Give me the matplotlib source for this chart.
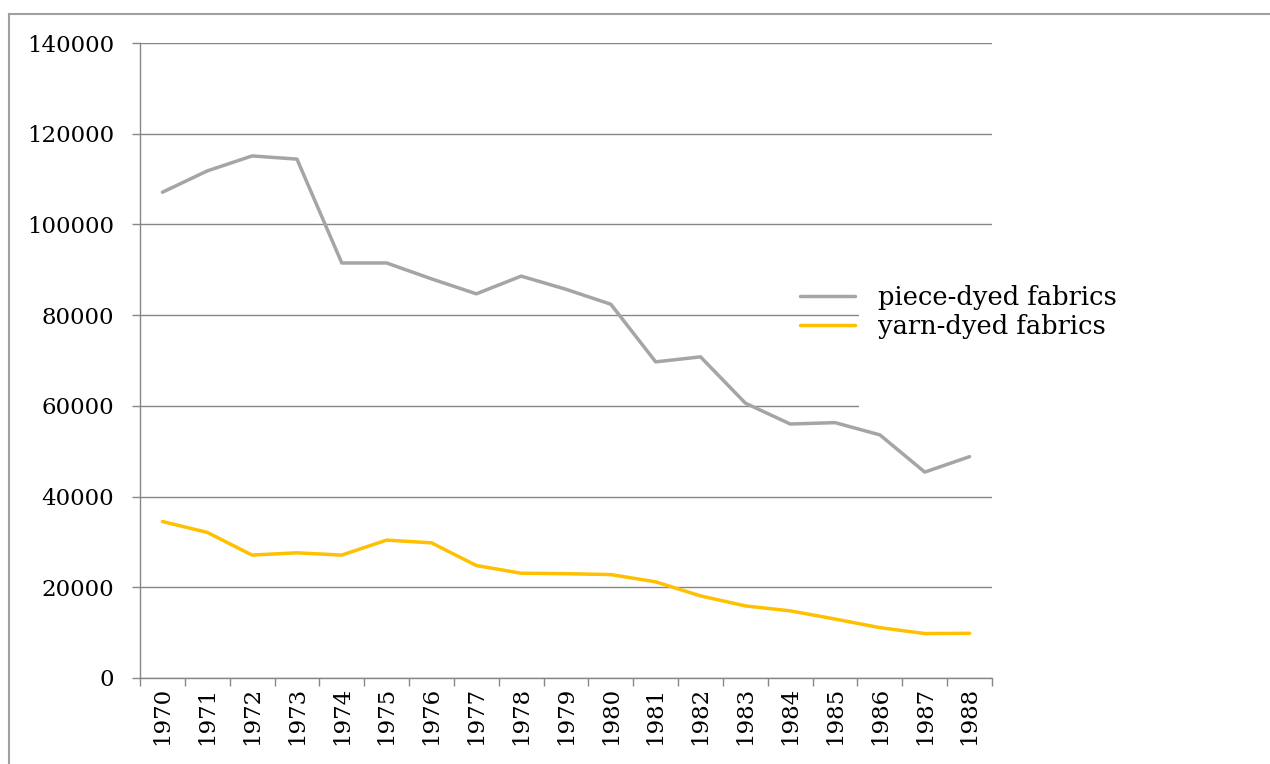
import matplotlib
matplotlib.use("Agg")
import matplotlib.pyplot as plt
from matplotlib.lines import Line2D
from matplotlib.patches import Rectangle
import numpy as np

years = [str(y) for y in range(1970, 1989)]
piece_dyed = [107100, 111800, 115100, 114400, 91500, 91500, 88000, 84700, 88600,
              85700, 82400, 69700, 70800, 60600, 56000, 56300, 53600, 45400, 48800]
yarn_dyed = [34500, 32100, 27100, 27600, 27100, 30400, 29800, 24800, 23100,
             23000, 22800, 21200, 18100, 15900, 14800, 13000, 11100, 9800, 9850]
yticks = [0, 20000, 40000, 60000, 80000, 100000, 120000, 140000]
series_names = ["piece-dyed fabrics", "yarn-dyed fabrics"]

W, H = 1270, 764
plt.rcParams['font.family'] = ['DejaVu Serif']
fig = plt.figure(figsize=(W / 100, H / 100), dpi=100)
fig.patch.set_facecolor("white")

ax = fig.add_axes([140 / W, (H - 678) / H, (992 - 140) / W, (678 - 43) / H])
x = np.arange(len(years))
gray = "#A5A5A5"
gold = "#FFC000"
axcol = "#868686"

ax.plot(x, piece_dyed, color=gray, lw=2.5, solid_capstyle="round", solid_joinstyle="round", zorder=3)
ax.plot(x, yarn_dyed, color=gold, lw=2.5, solid_capstyle="round", solid_joinstyle="round", zorder=3)

ax.set_xlim(-0.5, len(years) - 0.5)
ax.set_ylim(0, 140000)
ax.set_yticks(yticks)
ax.set_yticklabels([str(v) for v in yticks])
ax.yaxis.grid(True, color=axcol, lw=1.0)
ax.set_axisbelow(True)

ax.set_xticks(np.arange(-0.5, len(years), 1.0))
ax.set_xticklabels([])
ax.set_xticks(x, minor=True)
ax.set_xticklabels(years, minor=True, rotation=90, fontsize=16.5)
ax.tick_params(axis="x", which="major", length=5.8, width=1, color=axcol, direction="out")
ax.tick_params(axis="x", which="minor", length=0, pad=6.5)
ax.tick_params(axis="y", length=5.8, width=1, color=axcol, direction="out", labelsize=16.5, pad=13.0)

for s in ["top", "right"]:
    ax.spines[s].set_visible(False)
for s in ["left", "bottom"]:
    ax.spines[s].set_color(axcol)
    ax.spines[s].set_linewidth(1.0)

# white legend background covering gridlines
ax.add_patch(Rectangle((859 / W, (H - 415) / H), (1150 - 859) / W, (415 - 235) / H,
                       transform=fig.transFigure, facecolor="white", edgecolor="none",
                       clip_on=False, zorder=1))

handles = [Line2D([], [], color=gray, lw=2.5, solid_capstyle="round"),
           Line2D([], [], color=gold, lw=2.5, solid_capstyle="round")]
leg = fig.legend(handles, series_names, loc="upper left",
                 bbox_to_anchor=(800 / W, (H - 285) / H), frameon=False,
                 fontsize=18.5, handlelength=2.14, handletextpad=0.9, labelspacing=0.17,
                 borderpad=0, borderaxespad=0)

# outer frame
fig.add_artist(Line2D([8.5 / W, 8.5 / W], [0, (H - 14) / H], color="#A0A0A0", lw=1.5,
                      transform=fig.transFigure))
fig.add_artist(Line2D([8.5 / W, 1.0], [(H - 14) / H, (H - 14) / H], color="#A0A0A0", lw=1.5,
                      transform=fig.transFigure))

fig.savefig("out.png", dpi=100, facecolor="white")
